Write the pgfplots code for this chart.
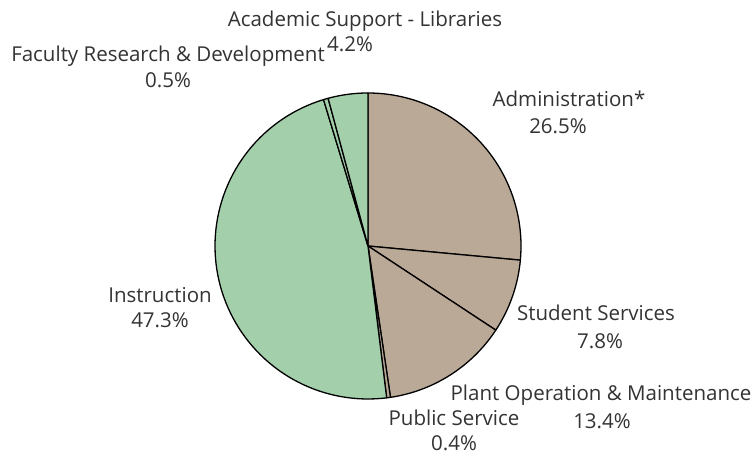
\documentclass[border=0pt]{standalone}
\usepackage{pgfplots}
\pgfplotsset{compat=1.18}
\usepackage{fontspec}
\setmainfont{Open Sans}
\definecolor{tanc}{HTML}{BAA996}
\definecolor{greenc}{HTML}{A3CFAB}
\definecolor{txt}{HTML}{333333}
% shares (percent), clockwise from 12 o'clock
\def\pA{26.5}% Administration*
\def\pB{7.8}%  Student Services
\def\pC{13.4}% Plant Operation & Maintenance
\def\pD{0.4}%  Public Service
\def\pE{47.3}% Instruction
\def\pF{0.5}%  Faculty Research & Development
\def\pG{4.2}%  Academic Support - Libraries
\pgfmathsetmacro\tot{\pA+\pB+\pC+\pD+\pE+\pF+\pG}
\pgfmathsetmacro\k{360/\tot}
\pgfmathsetmacro\sA{0}
\pgfmathsetmacro\sB{\sA+\pA}
\pgfmathsetmacro\sC{\sB+\pB}
\pgfmathsetmacro\sD{\sC+\pC}
\pgfmathsetmacro\sE{\sD+\pD}
\pgfmathsetmacro\sF{\sE+\pE}
\pgfmathsetmacro\sG{\sF+\pF}
\pgfmathsetmacro\sH{\sG+\pG}
\def\cx{368}\def\cy{210}\def\R{153}
\newcommand{\piewedge}[3]{%
  \addplot[fill=#1, draw=black, line width=1.3bp, line join=round, domain={90-\k*(#3)}:{90-\k*(#2)}, samples=80, variable=\t]
    ({\cx+\R*cos(\t)},{\cy+\R*sin(\t)}) -- (axis cs:\cx,\cy) -- cycle;}
\begin{document}
\begin{tikzpicture}
\begin{axis}[
  width=755bp, height=456bp, scale only axis,
  xmin=0, xmax=755, ymin=0, ymax=456,
  hide axis, clip=false,
]
\piewedge{tanc}{\sA}{\sB}
\piewedge{tanc}{\sB}{\sC}
\piewedge{tanc}{\sC}{\sD}
\piewedge{tanc}{\sD}{\sE}
\piewedge{greenc}{\sE}{\sF}
\piewedge{greenc}{\sF}{\sG}
\piewedge{greenc}{\sG}{\sH}
\begin{scope}[every node/.style={font=\fontsize{20.5bp}{24bp}\selectfont, text=txt, anchor=base, inner sep=0pt}]
\node at (axis cs:365,429) {Academic Support - Libraries};
\node at (axis cs:350,404) {\pG\%};
\node at (axis cs:168,394) {Faculty Research \& Development};
\node at (axis cs:168,368) {\pF\%};
\node at (axis cs:569,349) {Administration*};
\node at (axis cs:558,322) {\pA\%};
\node at (axis cs:596,135) {Student Services};
\node at (axis cs:600,107) {\pB\%};
\node at (axis cs:601,55) {Plant Operation \& Maintenance};
\node at (axis cs:602,28) {\pC\%};
\node at (axis cs:454,31) {Public Service};
\node at (axis cs:454,6) {\pD\%};
\node at (axis cs:160,153) {Instruction};
\node at (axis cs:160,128) {\pE\%};
\end{scope}
\end{axis}
\pgfresetboundingbox
\path (0,0) rectangle (755bp,456bp);
\end{tikzpicture}
\end{document}
